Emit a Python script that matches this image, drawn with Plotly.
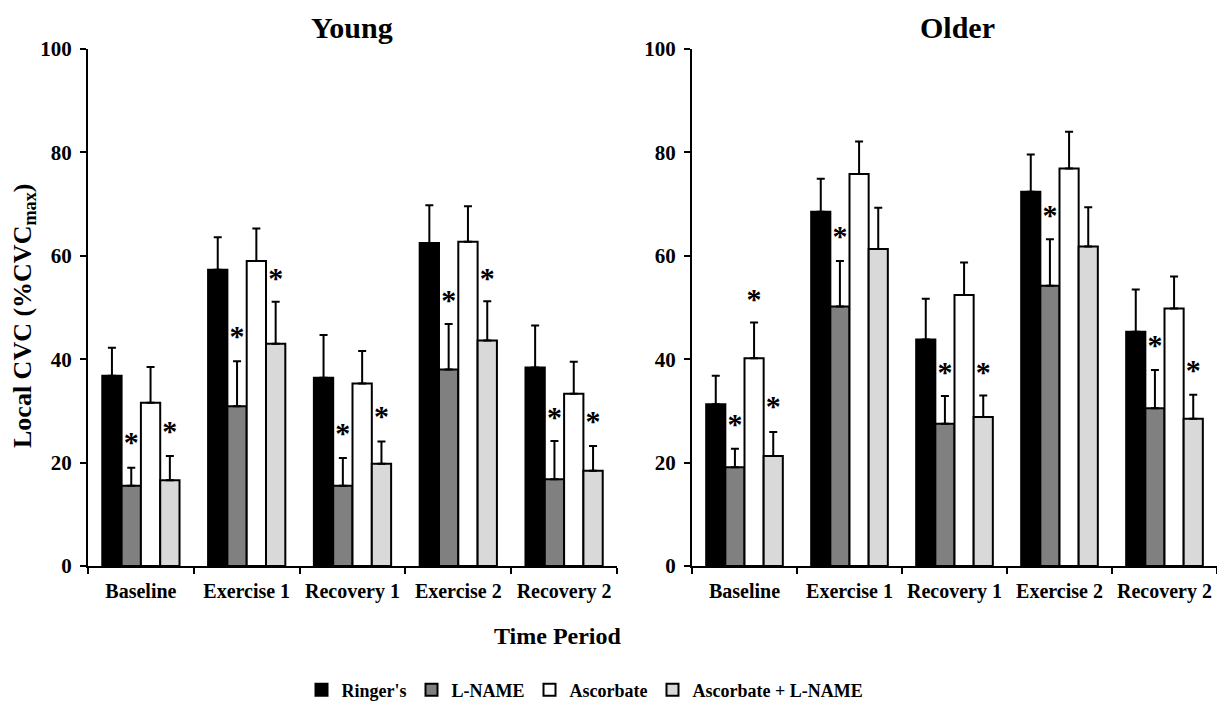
import plotly.graph_objects as go

categories = ["Baseline", "Exercise 1", "Recovery 1", "Exercise 2", "Recovery 2"]
series_names = ["Ringer's", "L-NAME", "Ascorbate", "Ascorbate + L-NAME"]
series_colors = ["#000000", "#808080", "#FFFFFF", "#D9D9D9"]

# Young
young_ringers = [36.8, 57.3, 36.4, 62.5, 38.4]
young_lname = [15.5, 30.9, 15.5, 38.0, 16.8]
young_asc = [31.6, 59.0, 35.3, 62.7, 33.3]
young_asc_lname = [16.6, 43.0, 19.8, 43.6, 18.4]
young_ringers_se = [5.4, 6.3, 8.3, 7.3, 8.1]
young_lname_se = [3.5, 8.7, 5.4, 8.8, 7.4]
young_asc_se = [6.9, 6.3, 6.3, 6.9, 6.2]
young_asc_lname_se = [4.7, 8.1, 4.3, 7.6, 4.8]

# Older
older_ringers = [31.3, 68.5, 43.8, 72.4, 45.3]
older_lname = [19.1, 50.2, 27.5, 54.2, 30.5]
older_asc = [40.2, 75.8, 52.4, 76.9, 49.8]
older_asc_lname = [21.3, 61.3, 28.8, 61.8, 28.5]
older_ringers_se = [5.5, 6.4, 7.9, 7.2, 8.2]
older_lname_se = [3.6, 8.8, 5.4, 9.0, 7.4]
older_asc_se = [6.9, 6.3, 6.3, 7.1, 6.2]
older_asc_lname_se = [4.6, 8.0, 4.2, 7.6, 4.6]

# Significance marker levels (centre of "*"), None = no marker
young_ringers_star = [None] * 5
young_lname_star = [24.6, 45.1, 26.3, 52.0, 29.4]
young_asc_star = [None] * 5
young_asc_lname_star = [26.7, 56.3, 29.6, 56.3, 28.6]
older_ringers_star = [None] * 5
older_lname_star = [27.9, 64.4, 38.1, 68.5, 43.3]
older_asc_star = [52.2, None, None, None, None]
older_asc_lname_star = [31.5, None, 38.1, None, 38.4]

y_ticks = [0, 20, 40, 60, 80, 100]

FONT = "Liberation Serif"
STAR_OFFSET = 4.2  # data units between bar-top of invisible carrier and glyph centre

# page body adds an 8px offset; work in screen pixels of the 1225x703 window
OFF = 8
W, H = 1225 - OFF, 703 - OFF


def px(x):
    return (x - OFF) / W


def py(y):
    return 1 - (y - OFF) / H


panels = [
    ("x", "y",
     [young_ringers, young_lname, young_asc, young_asc_lname],
     [young_ringers_se, young_lname_se, young_asc_se, young_asc_lname_se],
     [young_ringers_star, young_lname_star, young_asc_star, young_asc_lname_star]),
    ("x2", "y2",
     [older_ringers, older_lname, older_asc, older_asc_lname],
     [older_ringers_se, older_lname_se, older_asc_se, older_asc_lname_se],
     [older_ringers_star, older_lname_star, older_asc_star, older_asc_lname_star]),
]

fig = go.Figure()
for pi, (xa, ya, vals, ses, stars) in enumerate(panels):
    for si in range(4):
        fig.add_trace(go.Bar(
            x=categories, y=vals[si], name=series_names[si],
            xaxis=xa, yaxis=ya, offsetgroup=str(si),
            marker=dict(color=series_colors[si], line=dict(color="black", width=2)),
            error_y=dict(type="data", array=ses[si], arrayminus=[0] * 5,
                         symmetric=False, color="black", thickness=2, width=4),
            showlegend=(pi == 0), legendgroup=series_names[si],
        ))
    for si in range(4):
        st = stars[si]
        if all(s is None for s in st):
            continue
        idx = [i for i, s in enumerate(st) if s is not None]
        fig.add_trace(go.Bar(
            x=[categories[i] for i in idx],
            y=[st[i] - STAR_OFFSET for i in idx],
            text=["*" for _ in idx],
            textposition="outside", textangle=0, constraintext="none",
            cliponaxis=False,
            textfont=dict(family=FONT, size=30, color="black"),
            xaxis=xa, yaxis=ya, offsetgroup=str(si),
            marker=dict(color="rgba(0,0,0,0)", line=dict(width=0)),
            showlegend=False, hoverinfo="skip",
        ))

axis_common = dict(showline=True, linecolor="black", linewidth=2, ticks="outside",
                   tickcolor="black", tickwidth=2, ticklen=6, showgrid=False,
                   zeroline=False)
xfont = dict(family=FONT, size=20, color="black", weight="bold")
yfont = dict(family=FONT, size=21, color="black", weight="bold")

fig.update_layout(
    width=W, height=H,
    margin=dict(l=0, r=0, t=0, b=0, autoexpand=False),
    paper_bgcolor="white", plot_bgcolor="white",
    font=dict(family=FONT, color="black", weight="bold"),
    barmode="group", bargap=0.27, bargroupgap=0,
    xaxis=dict(domain=[px(88), px(617)], anchor="y", tickson="boundaries",
               tickfont=xfont, ticklabelstandoff=6, **axis_common),
    xaxis2=dict(domain=[px(692), px(1217)], anchor="y2", tickson="boundaries",
                tickfont=xfont, ticklabelstandoff=6, **axis_common),
    yaxis=dict(domain=[py(566), py(49)], anchor="x", range=[0, 100],
               tickvals=y_ticks, tickfont=yfont, ticklabelstandoff=4, **axis_common),
    yaxis2=dict(domain=[py(566), py(49)], anchor="x2", range=[0, 100],
                tickvals=y_ticks, tickfont=yfont, ticklabelstandoff=4, **axis_common),
    legend=dict(orientation="h", x=px(585), xanchor="center", y=py(690), yanchor="middle",
                font=dict(family=FONT, size=18, color="black", weight="bold"),
                traceorder="normal", itemwidth=30),
    annotations=[
        dict(text="Young", x=px(352), y=py(27), xref="paper", yref="paper",
             xanchor="center", yanchor="middle",
             showarrow=False, font=dict(family=FONT, size=30, weight="bold")),
        dict(text="Older", x=px(957), y=py(27), xref="paper", yref="paper",
             xanchor="center", yanchor="middle",
             showarrow=False, font=dict(family=FONT, size=30, weight="bold")),
        dict(text="Time Period", x=px(558), y=py(636), xref="paper", yref="paper",
             xanchor="center", yanchor="middle",
             showarrow=False, font=dict(family=FONT, size=24, weight="bold")),
        dict(text="Local CVC (%CVC<sub>max</sub>)", x=px(24), y=py(316),
             xref="paper", yref="paper", xanchor="center", yanchor="middle",
             textangle=-90, showarrow=False,
             font=dict(family=FONT, size=26, weight="bold")),
    ],
)

fig.write_html("out.html")
